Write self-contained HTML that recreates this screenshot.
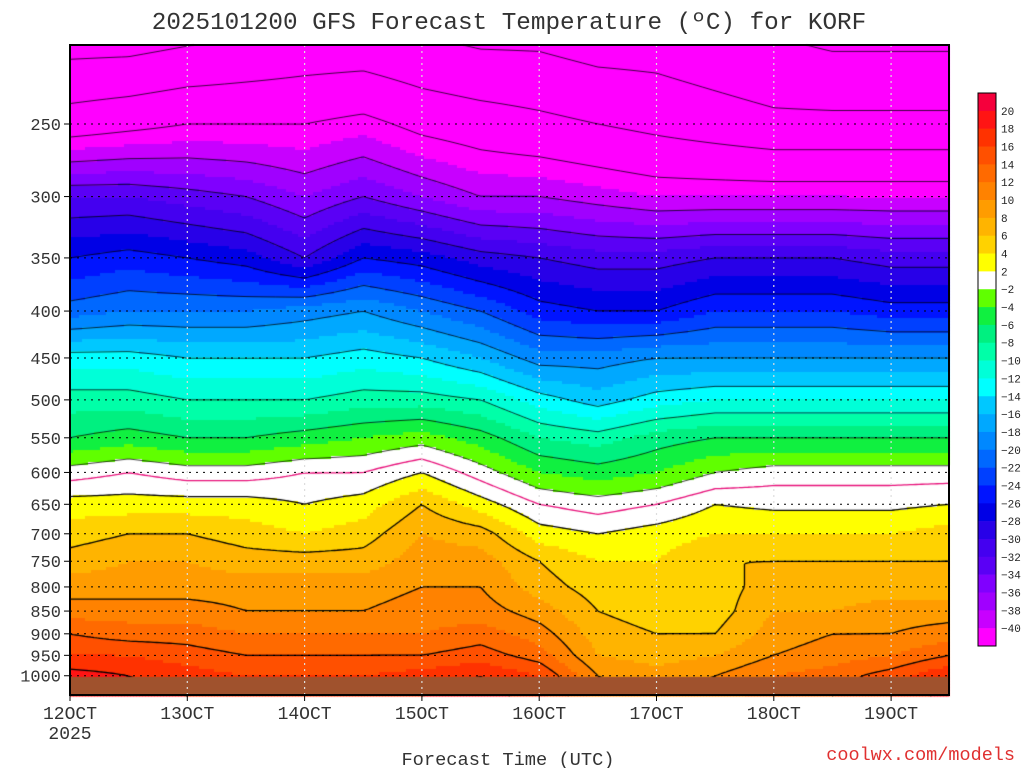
<!DOCTYPE html>
<html><head><meta charset="utf-8"><style>
body{margin:0;background:#fff;width:1024px;height:768px;overflow:hidden;font-family:"Liberation Mono",monospace}
#wrap{position:relative;width:1024px;height:768px}
canvas{position:absolute;left:0;top:0}
svg{position:absolute;left:0;top:0}
</style></head><body>
<div id="wrap">
<canvas id="cv" width="1024" height="768"></canvas>
<svg id="sv" width="1024" height="768"></svg>
</div>
<script>
const levels=[200,250,300,350,400,450,500,550,600,650,700,750,800,850,900,950,1000,1050];
const days=[0,.5,1,1.5,2,2.5,3,3.5,4,4.5,5,5.5,6,6.5,7,7.5];
const T200=[-52,-52,-51,-50,-49,-49,-50,-51,-51,-52,-52,-53,-54,-55,-55,-55];
const T250=[-44,-43,-42,-42,-42,-41,-43,-44,-45,-46,-47,-48,-49,-49,-49,-49];
const T300=[-32,-32,-33,-34,-36,-34,-36,-38,-38,-39,-40,-40,-40,-40,-40,-40];
const T350=[-26,-25,-26,-27,-30,-26,-27,-29,-30,-31,-31,-30,-30,-30,-31,-31];
const T400=[-21,-20,-20,-20,-19,-18,-20,-22,-25,-26,-26,-24,-24,-24,-25,-25];
const T450=[-13,-13,-14,-14,-14,-13,-14,-16,-19,-19,-18,-18,-18,-18,-18,-18];
const T500=[-9,-9,-10,-10,-10,-9,-9,-10,-13,-15,-13,-12,-12,-12,-12,-12];
const T550=[-6,-5,-6,-6,-5,-4,-3,-5,-8,-9,-7,-6,-6,-6,-6,-6];
const T600=[-1,0,-1,-1,0,0,2,-1,-4,-5,-4,-2,-1,-1,-1,-1];
const T650=[3,3,3,3,2,3,6,3,0,-1,0,2,1.5,1.5,1.5,2];
const T700=[5,6,6,5,4,5,8,7,3,2,3,4,4,4,4,5];
const T750=[7,8,8,7,7,7,9,9,6,4,4,6,6,6,6,6];
const T800=[9,9,9,9,9,9,10,10,7,5,4,5,7,7,7,7];
const T850=[11,11,11,10,10,10,11,11,9,6,5,5,8,8,9,9];
const T900=[14,13,13,12,12,12,12,13,11,7,6,6,9,10,10,11];
const T950=[16,16,15,14,14,14,14,15,13,8,7,8,10,11,12,14];
const T1000=[19,18,17,16,16,16,17,18,16,10,9,10,12,13,15,18];
const T1050=[20,19,18,17,17,17,18,19,17,11,10,11,13,14,16,19];
const rows=[T200,T250,T300,T350,T400,T450,T500,T550,T600,T650,T700,T750,T800,T850,T900,T950,T1000,T1050];
const yTicks=[250,300,350,400,450,500,550,600,650,700,750,800,850,900,950,1000];
const xTicks=["12OCT","13OCT","14OCT","15OCT","16OCT","17OCT","18OCT","19OCT"];
const cbLabels=[20,18,16,14,12,10,8,6,4,2,-2,-4,-6,-8,-10,-12,-14,-16,-18,-20,-22,-24,-26,-28,-30,-32,-34,-36,-38,-40];
const colors=["#f5003c","#ff1414","#ff3200","#ff5000","#ff6a00","#ff8200","#ff9c00","#ffb400","#ffd200","#ffff00","#ffffff","#60ff00","#10f040","#00f080","#00ffa8","#00ffd8","#00ffff","#00c8ff","#00a8ff","#0088ff","#0068ff","#0040ff","#0014ff","#0000e6","#2800e8","#4400f0","#5a00f5","#8000ff","#a000ff","#c800ff","#ff00ff"];
const X0=70,X1=949,Y0=45,Y1=695,pxDay=117.3,pyLn=398;
const xS=d=>X0+d*pxDay;
const yS=p=>124+Math.log(p/250)*pyLn;
const pOfY=y=>250*Math.exp((y-124)/pyLn);
function temp(d,p){
  let i=Math.max(0,Math.min(days.length-2,Math.floor(d/0.5)));
  let fx=Math.max(0,Math.min(1,(d-days[i])/(days[i+1]-days[i])));
  let j=0;while(j<levels.length-2&&p>levels[j+1])j++;
  let fy=Math.max(0,Math.min(1,(p-levels[j])/(levels[j+1]-levels[j])));
  const a=rows[j][i],b=rows[j][i+1],c=rows[j+1][i],e=rows[j+1][i+1];
  return (a*(1-fx)+b*fx)*(1-fy)+(c*(1-fx)+e*fx)*fy;
}
const cv=document.getElementById('cv'),ctx=cv.getContext('2d');
const S=3;
const nx=Math.ceil((X1-X0)/S),ny=Math.ceil((Y1-Y0)/S);
const G=[];
for(let r=0;r<=ny;r++){G.push([]);for(let c=0;c<=nx;c++){G[r].push(temp(c*S/pxDay,pOfY(Y0+r*S)));}}
for(let r=0;r<ny;r++)for(let c=0;c<nx;c++){
  const t=(G[r][c]+G[r][c+1]+G[r+1][c]+G[r+1][c+1])/4;
  let col;
  if(t>=20)col=colors[0];else if(t>=2)col=colors[1+Math.min(8,Math.floor((20-t)/2))];else if(t>=-2)col=colors[10];else if(t<-40)col=colors[30];else col=colors[11+Math.floor((-2-t)/2)];
  ctx.fillStyle=col;ctx.fillRect(X0+c*S,Y0+r*S,S+0.5,S+0.5);
}
const cl=[];for(let v=-54;v<=18;v+=4)cl.push(v);cl.push(0);
for(const v of cl){
  ctx.beginPath();
  for(let r=0;r<ny;r++)for(let c=0;c<nx;c++){
    const q=[G[r][c],G[r][c+1],G[r+1][c+1],G[r+1][c]];
    const P=[[c,r],[c+1,r],[c+1,r+1],[c,r+1]];
    const pts=[];
    for(let k=0;k<4;k++){const a=q[k],b=q[(k+1)%4];if((a<v)!==(b<v)){const f=(v-a)/(b-a);pts.push([P[k][0]+(P[(k+1)%4][0]-P[k][0])*f,P[k][1]+(P[(k+1)%4][1]-P[k][1])*f]);}}
    for(let k=0;k+1<pts.length;k+=2){ctx.moveTo(X0+pts[k][0]*S,Y0+pts[k][1]*S);ctx.lineTo(X0+pts[k+1][0]*S,Y0+pts[k+1][1]*S);}
  }
  if(v===0){ctx.strokeStyle='#e8107a';ctx.lineWidth=1.3;}
  else if(v<0){ctx.strokeStyle='rgba(0,0,0,0.75)';ctx.lineWidth=1;}
  else{ctx.strokeStyle='#000';ctx.lineWidth=1.3;}
  ctx.stroke();
}
ctx.fillStyle='#a0522d';ctx.fillRect(X0,yS(1003),X1-X0,Y1-yS(1003));
const NS='http://www.w3.org/2000/svg',sv=document.getElementById('sv');
function mk(tag,at,txt){const e=document.createElementNS(NS,tag);for(const k in at)e.setAttribute(k,at[k]);if(txt!==undefined)e.textContent=txt;sv.appendChild(e);return e;}
for(const p of yTicks){
  const y=yS(p);
  const g=mk('line',{x1:X0,x2:X1,y1:y,y2:y,stroke:'#000','stroke-dasharray':'2,5','stroke-width':1});
  
  
  const tk=mk('line',{x1:X0-6,x2:X0,y1:y,y2:y,stroke:'#000'});
  
  
  const t=mk('text',{x:X0-9,y:y+6,'text-anchor':'end','font-size':17,fill:'#333','font-family':'Liberation Mono'},p);
  
  
}
xTicks.forEach((lab,i)=>{
  const x=xS(i);
  const g=mk('line',{x1:x,x2:x,y1:Y0,y2:Y1,stroke:'#ddd','stroke-dasharray':'2,4','stroke-width':1.2});
  
  
  const tk=mk('line',{x1:x,x2:x,y1:Y1,y2:Y1+6,stroke:'#000'});
  
  
  const t=mk('text',{x:x,y:719,'text-anchor':'middle','font-size':18,fill:'#333','font-family':'Liberation Mono'},lab);
  
  
});
const fr=mk('rect',{x:X0,y:Y0,width:X1-X0,height:Y1-Y0,fill:'none',stroke:'#000','stroke-width':2});


const cbX=978,cbY=93,cbH=553/31;
colors.forEach((c,i)=>{
  const r=mk('rect',{x:cbX,y:cbY+i*cbH,width:18,height:cbH+0.3,fill:c});
  
  
});
const cbf=mk('rect',{x:cbX,y:cbY,width:18,height:553,fill:'none',stroke:'#000'});


cbLabels.forEach((v,i)=>{
  const y=cbY+(i+1)*cbH;
  const t=mk('text',{x:1001,y:y+4,'font-size':11,fill:'#222','font-family':'Liberation Mono'},v<0?'\u2212'+(-v):v);
  
  
});
</script>
<svg width="1024" height="768" style="position:absolute;left:0;top:0;pointer-events:none">
<text x="509" y="29" text-anchor="middle" font-size="24.3" fill="#333" font-family="Liberation Mono">2025101200 GFS Forecast Temperature (ºC) for KORF</text>
<text x="70" y="739" text-anchor="middle" font-size="18" fill="#333" font-family="Liberation Mono">2025</text>
<text x="508" y="765" text-anchor="middle" font-size="18.7" fill="#333" font-family="Liberation Mono">Forecast Time (UTC)</text>
<text x="1015" y="760" text-anchor="end" font-size="18.5" fill="#e03030" font-family="Liberation Mono">coolwx.com/models</text>
</svg>
</body></html>
